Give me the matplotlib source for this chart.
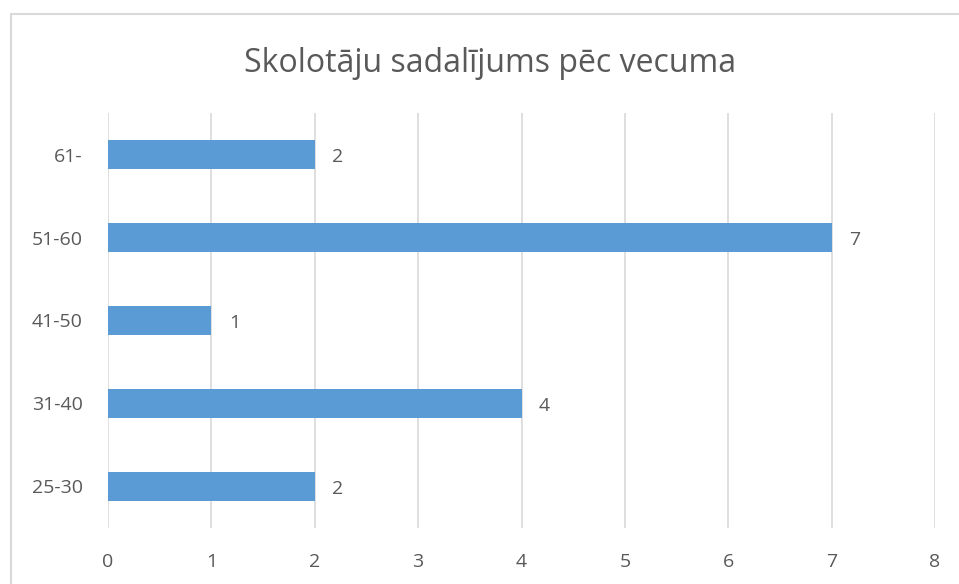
import numpy as np
import matplotlib.pyplot as plt
from matplotlib.patches import Rectangle

plt.rcParams['font.family'] = ['Open Sans', 'DejaVu Sans']

categories = ['25-30', '31-40', '41-50', '51-60', '61-']
values = [2, 4, 1, 7, 2]

text_color = '#595959'
bar_color = '#5B9BD5'
grid_color = '#D9D9D9'

fig = plt.figure(figsize=(9.59, 5.84), dpi=100)
ax = fig.add_axes([0.1126, 0.0959, 0.8624, 0.7106])

# chart border (cropped at right and bottom)
fig.patches.append(Rectangle((11 / 959, -0.1), 1.1, 1 - 14 / 584 + 0.1,
                             transform=fig.transFigure, fill=False,
                             edgecolor=grid_color, linewidth=1.5))

y = np.arange(len(categories))
ax.barh(y, values, height=0.36, color=bar_color, zorder=3)

for yi, v in zip(y, values):
    ax.text(v + 0.17, yi - 0.03, str(v), va='center', ha='left', fontsize=14, color=text_color)

ax.set_xlim(0, 8)
ax.set_ylim(-0.5, 4.5)
ax.set_xticks(range(0, 9))
ax.set_yticks(y)
ax.set_yticklabels(categories)
ax.tick_params(axis='both', length=0, labelsize=14, labelcolor=text_color)
ax.tick_params(axis='x', pad=18)
ax.tick_params(axis='y', pad=18)
ax.grid(axis='x', color=grid_color, linewidth=1.2, zorder=0)
for s in ax.spines.values():
    s.set_visible(False)

fig.text(490 / 959, 1 - 72 / 584, 'Skolotāju sadalījums pēc vecuma',
         ha='center', va='baseline', fontsize=23, color=text_color)

fig.savefig('out.png', dpi=100)
